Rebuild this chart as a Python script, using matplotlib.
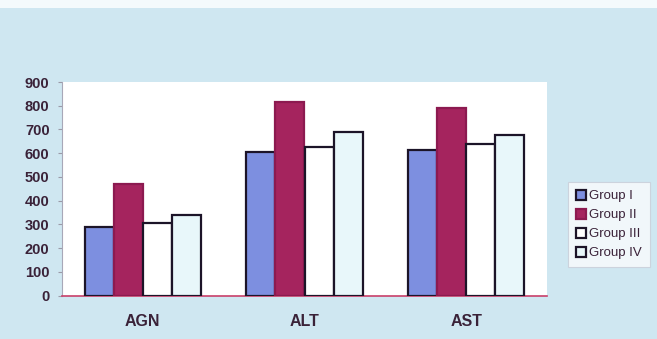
import matplotlib
matplotlib.use("Agg")
import matplotlib.pyplot as plt
import numpy as np
from matplotlib.patches import Rectangle

categories = ["AGN", "ALT", "AST"]
groups = ["Group I", "Group II", "Group III", "Group IV"]
group_i = [290, 605, 615]
group_ii = [470, 815, 790]
group_iii = [305, 625, 640]
group_iv = [340, 690, 675]
yticks = [0, 100, 200, 300, 400, 500, 600, 700, 800, 900]

series = [group_i, group_ii, group_iii, group_iv]
fills = ["#7d8fe0", "#a5245e", "#ffffff", "#e8f7fa"]
edges = ["#1c1428", "#8c1a50", "#1c1428", "#1c1428"]

plt.rcParams["font.family"] = ["Liberation Sans", "DejaVu Sans"]

fig = plt.figure(figsize=(6.57, 3.39), dpi=100)
fig.patch.set_facecolor("#cfe7f1")
# pale strip along the top edge
fig.add_artist(Rectangle((0, 1 - 8 / 339), 1, 8 / 339, transform=fig.transFigure,
                         facecolor="#f4fafc", edgecolor="none", zorder=0))

ax = fig.add_axes([62 / 657, 43.5 / 339, 485 / 657, 213.5 / 339])
ax.set_facecolor("#ffffff")

x = np.arange(len(categories))
width = 0.18
offsets = (np.arange(len(groups)) - 1.5) * width
handles = []
for vals, off, fc, ec, name in zip(series, offsets, fills, edges, groups):
    b = ax.bar(x + off, vals, width, color=fc, edgecolor=ec, linewidth=1.6,
               label=name, zorder=3)
    handles.append(b)

ax.set_xlim(-0.5, 2.5)
ax.set_ylim(0, 900)
ax.set_yticks(yticks)
ax.set_yticklabels([str(t) for t in yticks], fontsize=10.5, fontweight="bold",
                   color="#3a2238")
ax.set_xticks(x)
ax.set_xticklabels(categories, fontsize=11.5, fontweight="bold", color="#3a2238")
ax.tick_params(axis="x", length=0, pad=13)
ax.tick_params(axis="y", length=3, width=0.8, color="#9a9aa8", pad=6)

for s in ["top", "right"]:
    ax.spines[s].set_visible(False)
ax.spines["left"].set_color("#a8a8b8")
ax.spines["left"].set_linewidth(0.8)
ax.spines["bottom"].set_color("#c8406a")
ax.spines["bottom"].set_linewidth(1.2)

leg = fig.legend(handles=handles, labels=groups, loc="upper left",
                 bbox_to_anchor=(568 / 657, 1 - 182 / 339), fontsize=9.5,
                 frameon=True, fancybox=False, handlelength=0.75,
                 handleheight=0.75, handletextpad=0.25, labelspacing=0.5,
                 borderpad=0.6, borderaxespad=0)
leg.get_frame().set_facecolor("#fafcfd")
leg.get_frame().set_edgecolor("#c8ccd8")
leg.get_frame().set_linewidth(0.8)
for t in leg.get_texts():
    t.set_color("#3a2238")

fig.savefig("out.png", dpi=100, facecolor=fig.get_facecolor())
